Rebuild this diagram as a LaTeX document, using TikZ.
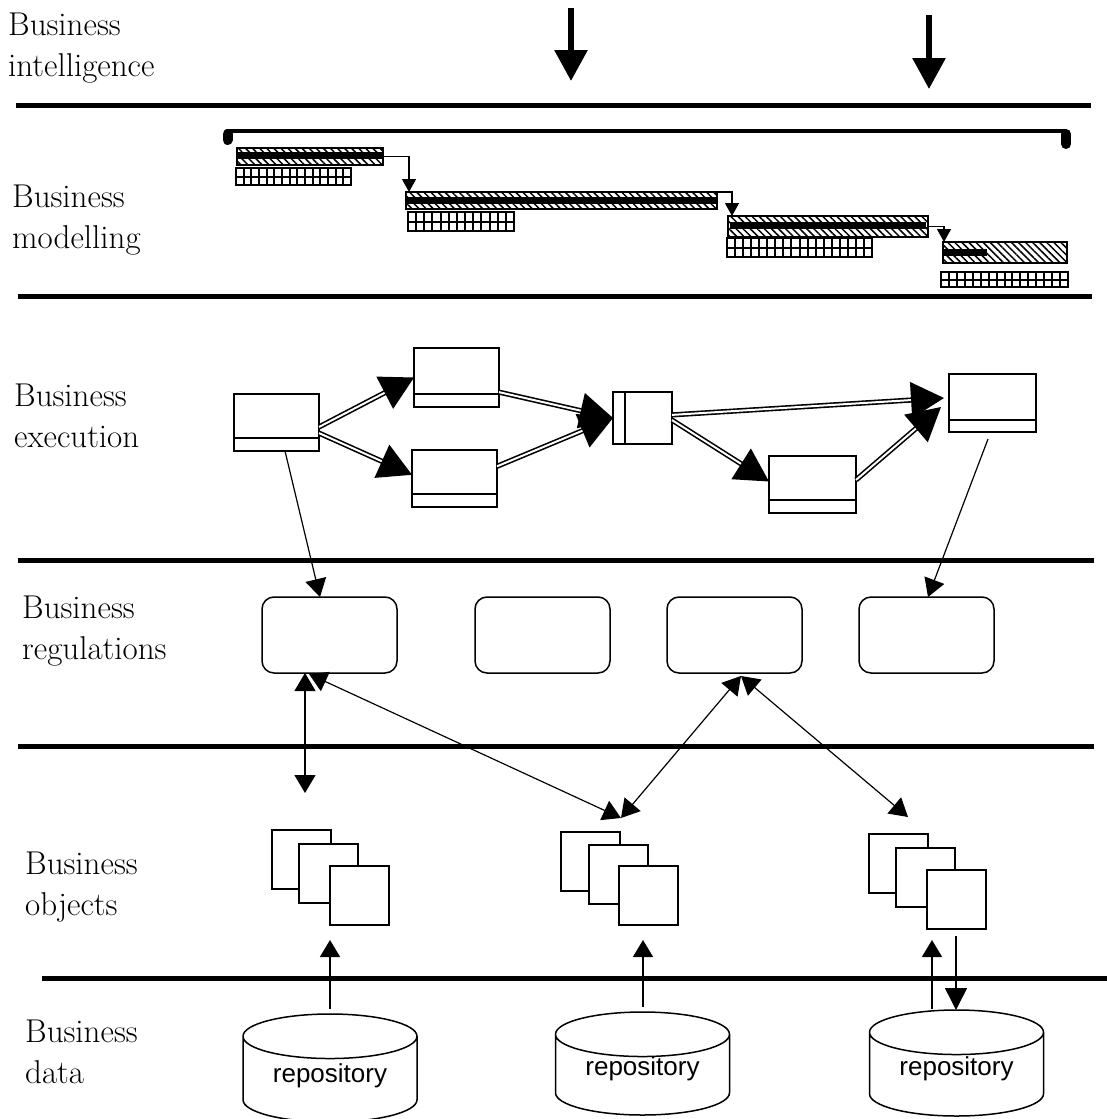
\documentclass[tikz,border=0pt]{standalone}
\usepackage{fontspec}
\newfontfamily\repofont{Liberation Sans}
\usetikzlibrary{arrows.meta,calc,patterns.meta,shapes.geometric}

\tikzset{
	label/.style={anchor=west,align=left,inner sep=0pt,font=\fontsize{33}{41}\selectfont},
	rule/.style={line width=5pt},
	plainbox/.style={draw,line width=1.5pt,fill=white,inner sep=0pt,outer sep=0pt},
	regulation/.style={plainbox,rounded corners=12pt,minimum width=135pt,minimum height=76pt},
	sheet/.style={plainbox,minimum width=59pt,minimum height=59pt},
	repository/.style={draw,line width=1.5pt,cylinder,shape border rotate=90,aspect=0.39,inner sep=0pt,outer sep=0pt,
		anchor=shape center,minimum width=174pt,font=\repofont\fontsize{26}{26}\selectfont},
	task/.style={plainbox,pattern={Lines[angle=-45,distance=5pt,line width=1.5pt]}},
	done/.style={fill=black,inner sep=0pt,outer sep=0pt},
	gridbar/.style={plainbox},
	flow/.style={line width=1.6pt,double=white,double distance=2pt,draw=black,-{Triangle[length=33pt,width=36pt,fill=black]}},
	link/.style={line width=1.2pt,-{Triangle[length=18pt,width=21pt]}},
	bothlink/.style={line width=1.2pt,{Triangle[length=18pt,width=21pt]}-{Triangle[length=18pt,width=21pt]}},
	uplink/.style={line width=1.5pt,-{Triangle[length=17pt,width=20pt]}},
	downlink/.style={line width=1.5pt,-{Triangle[length=22pt,width=22pt]}},
	bigarrow/.style={line width=6pt,-{Triangle[length=31pt,width=32pt]}},
	dep/.style={line width=1.3pt,-{Triangle[length=13pt,width=14pt]}},
	barcap/.style={line width=10pt,line cap=round},
}

\newcommand{\ganttgrid}[6]{% name, left, top, right, bottom, columns
	\node[gridbar,anchor=north west,minimum width=#4pt-#2pt,minimum height=#5pt-#3pt] (#1) at (#2,#3) {};
	\draw[line width=2pt] (#1.west) -- (#1.east);
	\foreach \i in {1,...,#6}
		\draw[line width=2pt] ($(#1.north west)!\i/#6!(#1.north east)$) -- ($(#1.south west)!\i/#6!(#1.south east)$);
}

\begin{document}
\begin{tikzpicture}[x=1pt,y=-1pt]
	\useasboundingbox (0,0) rectangle (1107,1119);

	% layer titles
	\node[label] (lintel) at (8,48) {Business\\intelligence};
	\node[label] (lmodel) at (12,220) {Business\\modelling};
	\node[label] (lexec) at (14,416) {Business\\execution};
	\node[label] (lregs) at (22,631) {Business\\regulations};
	\node[label] (lobj) at (25,887) {Business\\objects};
	\node[label] (ldata) at (25,1052) {Business\\data};

	% layer rules
	\foreach \ya/\xa/\xb in {105/16/1091,296/18/1092,560/18/1094,746/18/1094,978/42/1107}
		\draw[rule] (\xa,\ya) -- (\xb,\ya);

	% intelligence
	\coordinate (in1a) at (571,8);
	\coordinate (in1b) at (571,81);
	\coordinate (in2a) at (929,15);
	\coordinate (in2b) at (929,89);
	\draw[bigarrow] (in1a) -- (in1b);
	\draw[bigarrow] (in2a) -- (in2b);

	% gantt
	\coordinate (sumL) at (226,131);
	\coordinate (sumR) at (1067,131);
	\draw[line width=4pt] (sumL) -- (sumR);
	\draw[barcap] (227.5,134) -- (227.5,140);
	\draw[barcap] (1066,134) -- (1066,144);

	\node[task,anchor=north west,minimum width=146pt,minimum height=17pt] (t1) at (237,148) {};
	\node[task,anchor=north west,minimum width=311pt,minimum height=17pt] (t2) at (406,192) {};
	\node[task,anchor=north west,minimum width=200pt,minimum height=21pt] (t3) at (728,216) {};
	\node[task,anchor=north west,minimum width=124pt,minimum height=21pt] (t4) at (943,242) {};
	\node[done,anchor=north west,minimum width=146pt,minimum height=7pt] (d1) at (237,152) {};
	\node[done,anchor=north west,minimum width=309pt,minimum height=7pt] (d2) at (407,197) {};
	\node[done,anchor=north west,minimum width=196pt,minimum height=7pt] (d3) at (730,222) {};
	\node[done,anchor=north west,minimum width=44pt,minimum height=7pt] (d4) at (943,249) {};

	\ganttgrid{g1}{236}{168}{351}{185}{15}
	\ganttgrid{g2}{408}{212}{514}{231}{13}
	\ganttgrid{g3}{727}{238}{872}{257}{18}
	\ganttgrid{g4}{941}{272}{1068}{287}{16}

	\draw[dep] (t1.east) -| ([xshift=3pt]t2.north west);
	\draw[dep] (t2.18) -| ([xshift=4pt]t3.north west);
	\draw[dep] (t3.east) -| ([xshift=1pt]t4.north west);

	% process
	\node[plainbox,minimum width=85pt,minimum height=57pt] (a1) at (276.5,422.5) {};
	\node[plainbox,minimum width=85pt,minimum height=59pt] (a2) at (456.5,377.5) {};
	\node[plainbox,minimum width=85pt,minimum height=57pt] (a3) at (454.5,478.5) {};
	\node[plainbox,minimum width=59pt,minimum height=52pt] (gate) at (642.5,418) {};
	\node[plainbox,minimum width=87pt,minimum height=57pt] (a5) at (812.5,484.5) {};
	\node[plainbox,minimum width=87pt,minimum height=58pt] (a6) at (992.5,403) {};
	\foreach \nm/\yy in {a1/438,a2/394,a3/494,a5/500,a6/420}
		\draw[line width=1.5pt] (\nm.west |- 0,\yy) -- (\nm.east |- 0,\yy);
	\draw[line width=1.5pt] (gate.north west -| 625,0) -- (gate.south west -| 625,0);

	\draw[flow] (a1.354) -- (a2.west);
	\draw[flow] (a1.346) -- (a3.175);
	\draw[flow] (a2.341) -- (gate.west);
	\draw[flow] (a3.16) -- (gate.west);
	\draw[flow] (gate.6) -- ([xshift=-5pt,yshift=5pt]a6.west);
	\draw[flow] (gate.356) -- ([yshift=3pt]a5.west);
	\draw[flow] (a5.6) -- ([xshift=-8pt,yshift=-4pt]a6.west);

	% regulations
	\node[regulation] (r1) at (329.5,635) {};
	\node[regulation] (r2) at (542.5,635) {};
	\node[regulation] (r3) at (734.5,635) {};
	\node[regulation] (r4) at (926.5,635) {};

	\coordinate (a1out) at (285,451);
	\coordinate (r1in) at (320,597);
	\coordinate (a6out) at (988,439);
	\coordinate (r4in) at (928,597);
	\draw[link] (a1out) -- (r1in);
	\draw[link] (a6out) -- (r4in);

	% business objects
	\foreach \nm/\xa/\ya in {o1/301.5/859.5,o2/590.5/861.5,o3/898.5/863.5}
		\node[sheet] (\nm a) at (\xa,\ya) {};
	\foreach \nm/\xa/\ya in {o1/328.5/873.5,o2/618.5/874.5,o3/925.5/877.5}
		\node[sheet] (\nm b) at (\xa,\ya) {};
	\foreach \nm/\xa/\ya in {o1/359.5/895.5,o2/648.5/895.5,o3/956.5/899.5}
		\node[sheet] (\nm c) at (\xa,\ya) {};

	\coordinate (r1dn) at (305,673);
	\coordinate (o1up) at (305,793);
	\coordinate (o2up) at (621,818);
	\coordinate (o3up) at (908,817);
	\coordinate (r1cor) at (309,674);
	\coordinate (r3bot) at (741,676);
	\draw[bothlink] (r1dn) -- (o1up);
	\draw[bothlink] (r1cor) -- (o2up);
	\draw[bothlink] (r3bot) -- (o2up);
	\draw[bothlink] (r3bot) -- (o3up);

	% repositories
	\node[repository,minimum height=108pt] (db1) at (330,1068) {\raisebox{-3pt}[0pt][0pt]{repository}};
	\node[repository,minimum height=103pt] (db2) at (642.5,1063.5) {\raisebox{0pt}[0pt][0pt]{repository}};
	\node[repository,minimum height=106pt] (db3) at (956.5,1063) {\raisebox{-1pt}[0pt][0pt]{repository}};

	\coordinate (o1in) at (330,940);
	\coordinate (o2in) at (643,940);
	\coordinate (o3in) at (932,940);
	\coordinate (o3out) at (956,936);
	\coordinate (db1top) at (330,1009);
	\coordinate (db2top) at (643,1007);
	\coordinate (db3top) at (932,1009);
	\coordinate (db3in) at (956,1010);
	\draw[uplink] (db1top) -- (o1in);
	\draw[uplink] (db2top) -- (o2in);
	\draw[uplink] (db3top) -- (o3in);
	\draw[downlink] (o3out) -- (db3in);
\end{tikzpicture}
\end{document}
